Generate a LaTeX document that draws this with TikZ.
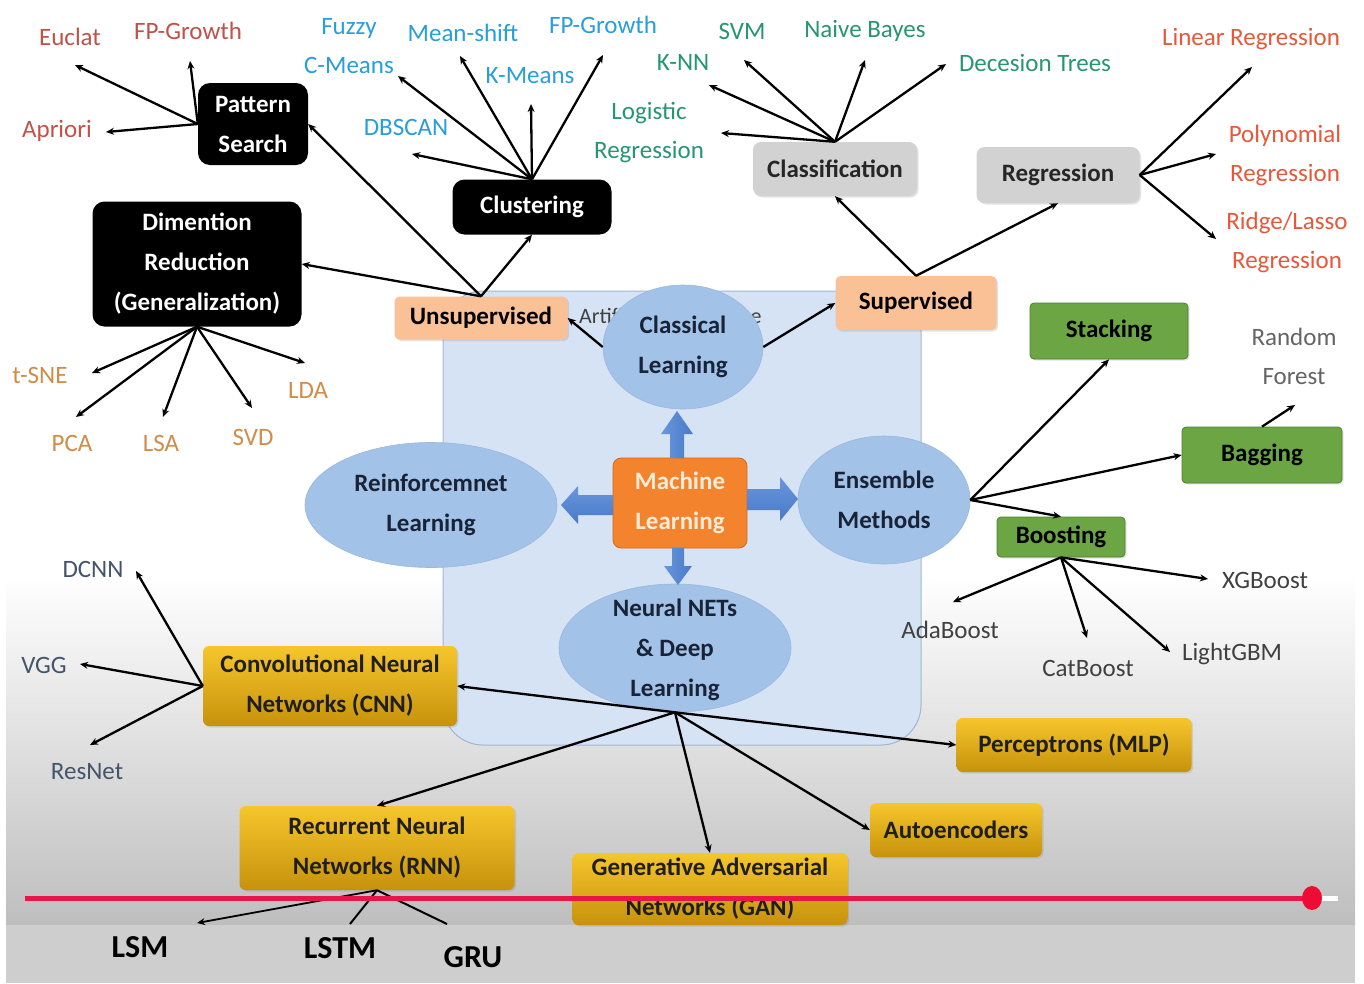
\documentclass[tikz,border=0pt]{standalone}
\usepackage{fontspec}
\setmainfont{Carlito}
\usetikzlibrary{arrows.meta,shapes.geometric,shadows}
\definecolor{peachc}{RGB}{250,192,150}
\definecolor{grayc}{RGB}{210,210,210}
\definecolor{greenc}{RGB}{108,165,68}
\definecolor{greend}{RGB}{80,130,50}
\definecolor{goldt}{RGB}{246,198,44}
\definecolor{goldb}{RGB}{198,146,12}
\definecolor{ellc}{RGB}{163,194,232}
\definecolor{ellb}{RGB}{152,184,226}
\definecolor{navyt}{RGB}{25,35,55}
\definecolor{bgblue}{RGB}{213,227,245}
\definecolor{bgblueb}{RGB}{160,182,212}
\definecolor{mlc}{RGB}{243,132,45}
\definecolor{mlb}{RGB}{215,105,28}
\definecolor{mlt}{RGB}{255,236,216}
\definecolor{barrow}{RGB}{72,122,200}
\definecolor{barrowl}{RGB}{105,150,220}
\definecolor{pc}{RGB}{192,82,72}
\definecolor{cc}{RGB}{40,158,218}
\definecolor{tc}{RGB}{38,150,112}
\definecolor{rc}{RGB}{230,88,58}
\definecolor{dc}{RGB}{208,140,72}
\definecolor{gc}{RGB}{64,64,64}
\definecolor{rfc}{RGB}{100,100,100}
\definecolor{sc}{RGB}{68,84,106}
\definecolor{redl}{RGB}{232,22,72}
\definecolor{redd}{RGB}{238,12,52}
\definecolor{gbot}{RGB}{190,190,190}
\definecolor{barg}{RGB}{206,206,206}
\begin{document}
\begin{tikzpicture}[x=1pt,y=-1pt,
  nb/.style={inner sep=0pt, align=center, font=\fontsize{25}{40}\selectfont\bfseries},
  shd/.style={drop shadow={shadow xshift=1.5pt,shadow yshift=-1.5pt,opacity=0.22}},
  blk/.style={nb, fill=black, text=white, rounded corners=12pt},
  peach/.style={nb, shd, fill=peachc, text=black, rounded corners=5pt},
  grayb/.style={nb, shd, fill=grayc, text=black!85, rounded corners=8pt},
  grn/.style={nb, shd, fill=greenc, draw=greend, line width=0.8pt, text=black, rounded corners=4pt},
  gold/.style={nb, shd, top color=goldt, bottom color=goldb, text=black!88, rounded corners=6pt},
  ell/.style={ellipse, fill=ellc, draw=ellb, line width=0.6pt, inner sep=0pt},
  etext/.style={nb, text=navyt},
  lbl/.style={inner sep=0pt, align=center, font=\fontsize{25}{39}\selectfont},
  big/.style={inner sep=0pt, font=\fontsize{32}{36}\selectfont\bfseries, text=black},
  con/.style={draw=black, line width=2.3pt, -{Stealth[length=8pt,width=7pt]}},
  blockarrow/.style={fill=barrow}
]
\useasboundingbox (0,0) rectangle (1364,983);
% background
\fill[white] (0,0) rectangle (1364,983);
\shade[top color=white, bottom color=gbot] (6,575) rectangle (1355,925);
\fill[barg] (6,925) rectangle (1355,983);
% big light blue panel
\draw[fill=bgblue, draw=bgblueb, line width=1pt, rounded corners=40pt] (443,291) rectangle (921,745);
\node[anchor=west, inner sep=0pt, font=\fontsize{22}{24}\selectfont, text=black!75] (ai) at (579,318) {Artificial Intelligence};

% ---------- main nodes ----------
\node[blk, minimum width=110pt, minimum height=82pt] (ps) at (253,124) {Pattern\\Search};
\node[blk, minimum width=159pt, minimum height=55pt] (cl) at (532,207) {Clustering};
\node[blk, minimum width=209pt, minimum height=125pt] (dim) at (197,264) {Dimention\\Reduction\\(Generalization)};
\node[peach, minimum width=173pt, minimum height=43pt] (uns) at (481,318) {Unsupervised};
\node[peach, minimum width=161pt, minimum height=54pt] (sup) at (916,303) {Supervised};
\node[grayb, minimum width=164pt, minimum height=54pt] (cls) at (835,169) {Classification};
\node[grayb, minimum width=163pt, minimum height=56pt] (reg) at (1058,175) {Regression};

\node[ell, minimum width=160pt, minimum height=124pt] (clc) at (683,347) {};
\node[etext] (clcT) at (683,347) {Classical\\Learning};
\node[ell, minimum width=252pt, minimum height=125pt] (rl) at (431,505) {};
\node[etext] (rlT) at (431,505) {Reinforcemnet\\Learning};
\node[ell, minimum width=172pt, minimum height=128pt] (ens) at (884,500) {};
\node[etext] (ensT) at (884,500) {Ensemble\\Methods};
\node[ell, minimum width=232pt, minimum height=128pt] (nn) at (675,648) {};
\node[etext] (nnT) at (675,650) {Neural NETs\\\& Deep\\Learning};

\node[nb, fill=mlc, draw=mlb, line width=0.8pt, text=mlt, rounded corners=8pt, minimum width=134pt, minimum height=90pt] (ml) at (680,503) {Machine\\Learning};

\node[grn, minimum width=158pt, minimum height=56pt] (stk) at (1109,331) {Stacking};
\node[grn, minimum width=160pt, minimum height=56pt] (bag) at (1262,455) {Bagging};
\node[grn, minimum width=128pt, minimum height=40pt] (boo) at (1061,537) {Boosting};

\node[gold, minimum width=254pt, minimum height=80pt] (cnn) at (330,686) {Convolutional Neural\\Networks (CNN)};
\node[gold, minimum width=235pt, minimum height=54pt] (mlp) at (1074,745) {Perceptrons (MLP)};
\node[gold, minimum width=172pt, minimum height=54pt] (ae) at (956,830) {Autoencoders};
\node[gold, minimum width=275pt, minimum height=84pt] (rnn) at (377,848) {Recurrent Neural\\Networks (RNN)};
\node[gold, minimum width=275pt, minimum height=72pt] (gan) at (710,889) {Generative Adversarial\\Networks (GAN)};

% ---------- labels ----------
\node[lbl, text=pc] (eu) at (70,37) {Euclat};
\node[lbl, text=pc] (fpa) at (188,31) {FP-Growth};
\node[lbl, text=pc] (ap) at (57,131) {Apriori};

\node[lbl, text=cc] (fz) at (349,46) {Fuzzy\\C-Means};
\node[lbl, text=cc] (ms) at (463,33) {Mean-shift};
\node[lbl, text=cc] (km) at (530,76) {K-Means};
\node[lbl, text=cc] (fpb) at (603,25) {FP-Growth};
\node[lbl, text=cc] (db) at (406,127) {DBSCAN};

\node[lbl, text=tc] (svm) at (742,31) {SVM};
\node[lbl, text=tc] (nbay) at (865,31) {Naive Bayes};
\node[lbl, text=tc] (dt) at (1035,63) {Decesion Trees};
\node[lbl, text=tc] (knn) at (683,62) {K-NN};
\node[lbl, text=tc] (lgr) at (649,133) {Logistic\\Regression};

\node[lbl, text=rc] (lin) at (1251,39) {Linear Regression};
\node[lbl, text=rc] (poly) at (1285,155) {Polynomial\\Regression};
\node[lbl, text=rc] (ridge) at (1287,242) {Ridge/Lasso\\Regression};

\node[lbl, text=dc] (tsne) at (40,375) {t-SNE};
\node[lbl, text=dc] (pca) at (72,443) {PCA};
\node[lbl, text=dc] (lsa) at (161,443) {LSA};
\node[lbl, text=dc] (svd) at (253,437) {SVD};
\node[lbl, text=dc] (lda) at (308,390) {LDA};

\node[lbl, text=rfc] (rf) at (1294,356) {Random\\Forest};
\node[lbl, text=gc] (xgb) at (1265,580) {XGBoost};
\node[lbl, text=gc] (ada) at (950,630) {AdaBoost};
\node[lbl, text=gc] (cat) at (1088,668) {CatBoost};
\node[lbl, text=gc] (lgbm) at (1232,654) {LightGBM};

\node[lbl, text=sc] (dcnn) at (93,569) {DCNN};
\node[lbl, text=sc] (vgg) at (44,665) {VGG};
\node[lbl, text=sc] (resn) at (87,772) {ResNet};

\node[big] (lsm) at (140,947) {LSM};
\node[big] (lstm) at (340,948) {LSTM};
\node[big] (gru) at (473,957) {GRU};

% ---------- arrow tip coordinates ----------
\coordinate (tEu) at (75,65);
\coordinate (tFpa) at (190,61);
\coordinate (tAp) at (106,132);
\coordinate (tFz) at (398,76);
\coordinate (tMs) at (460,56);
\coordinate (tKm) at (531,104);
\coordinate (tFpb) at (603,55);
\coordinate (tDb) at (412,154);
\coordinate (tSvm) at (744,60);
\coordinate (tNb) at (865,60);
\coordinate (tDt) at (946,64);
\coordinate (tKnn) at (709,85);
\coordinate (tLgr) at (721,133);
\coordinate (tLin) at (1252,67);
\coordinate (tPoly) at (1216,154);
\coordinate (tRidge) at (1216,239);
\coordinate (tTsne) at (92,373);
\coordinate (tPca) at (76,417);
\coordinate (tLsa) at (163,417);
\coordinate (tSvd) at (252,408);
\coordinate (tLda) at (305,363);
\coordinate (tRf) at (1295,405);
\coordinate (tXgb) at (1208,579);
\coordinate (tAda) at (953,602);
\coordinate (tCat) at (1087,638);
\coordinate (tLgbm) at (1170,652);
\coordinate (tDcnn) at (136,571);
\coordinate (tVgg) at (80,664);
\coordinate (tRes) at (90,745);
\coordinate (tLsm) at (197,923);
\coordinate (tLstm) at (350,924);
\coordinate (tGru) at (447,924);

% ---------- connectors ----------
\foreach \t in {tEu,tFpa,tAp} \draw[con] (ps.west) -- (\t);
\foreach \t in {tFz,tMs,tKm,tFpb,tDb} \draw[con] (cl.north) -- (\t);
\foreach \t in {tSvm,tNb,tDt,tKnn,tLgr} \draw[con] (cls.north) -- (\t);
\foreach \t in {tLin,tPoly,tRidge} \draw[con] (reg.east) -- (\t);
\foreach \t in {tTsne,tPca,tLsa,tSvd,tLda} \draw[con] (dim.south) -- (\t);
\foreach \t in {tXgb,tAda,tCat,tLgbm} \draw[con] (boo.south) -- (\t);
\foreach \t in {tDcnn,tVgg,tRes} \draw[con] (cnn.west) -- (\t);

\draw[con] (sup.north) -- (cls.south);
\draw[con] (sup.north) -- (reg.south);
\draw[con] (uns.north) -- (cl.south);
\draw[con] (uns.north) -- (ps.east);
\draw[con] (uns.north) -- (dim.east);
\draw[con] (clc.west) -- (uns.east);
\draw[con] (clc.east) -- (sup.west);
\draw[con] (ens.east) -- (stk.south);
\draw[con] (ens.east) -- (bag.west);
\draw[con] (ens.east) -- (boo.north);
\draw[con] (bag.north) -- (tRf);
\draw[con] (nn.south) -- (cnn.east);
\draw[con] (nn.south) -- (mlp.west);
\draw[con] (nn.south) -- (ae.west);
\draw[con] (nn.south) -- (gan.north);
\draw[con] (nn.south) -- (rnn.north);
\draw[con, line width=1.8pt] (rnn.south) -- (tLsm);
\draw[line width=2pt] (rnn.south) -- (tLstm);
\draw[line width=2pt] (rnn.south) -- (tGru);

% ---------- block arrows from Machine Learning ----------
\shade[left color=barrowl, right color=barrow] (670,458) -- (670,434) -- (661,434) -- (677,411) -- (693,434) -- (684,434) -- (684,458) -- cycle;
\shade[top color=barrowl, bottom color=barrow] (613,495) -- (578,495) -- (578,486) -- (561,505) -- (578,524) -- (578,515) -- (613,515) -- cycle;
\shade[top color=barrowl, bottom color=barrow] (747,489) -- (780,489) -- (780,477) -- (798,499) -- (780,521) -- (780,510) -- (747,510) -- cycle;
\shade[left color=barrowl, right color=barrow] (672,548) -- (672,566) -- (664,566) -- (678,585) -- (692,566) -- (684,566) -- (684,548) -- cycle;

% ---------- progress bar ----------
\draw[line width=5pt, redl] (25,898) -- (1312,898);
\draw[line width=5pt, white] (1318,898) -- (1338,898);
\fill[redd] (1312,898) ellipse [x radius=10, y radius=12];
\end{tikzpicture}
\end{document}
